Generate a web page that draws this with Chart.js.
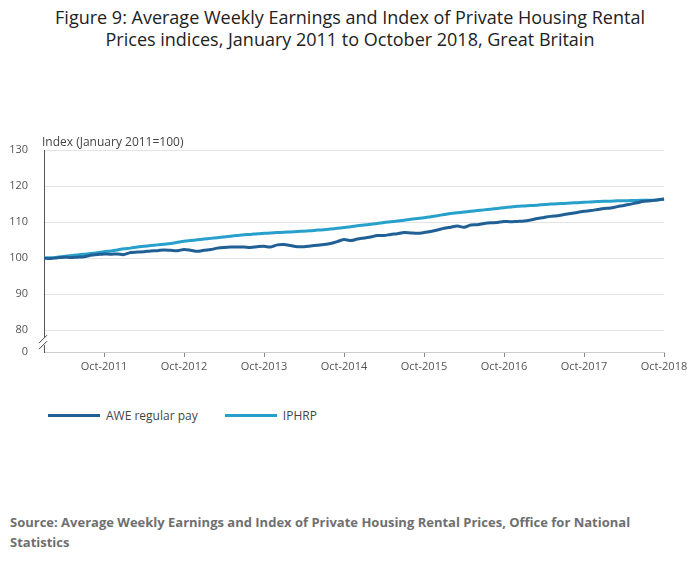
<!DOCTYPE html>
<html>
<head>
<meta charset="utf-8">
<script src="https://cdn.jsdelivr.net/npm/chart.js@4"></script>
<style>
  body { margin: 0; background: #fff; font-family: "Open Sans", sans-serif; }
  #wrap { position: relative; width: 700px; height: 574px; }
  #title { position: absolute; top: 6px; left: 0; width: 700px; text-align: center; font-size: 18px; line-height: 22px; color: #222; }
  #box { position: absolute; top: 0; left: 0; width: 700px; height: 380px; }
  #legend { position: absolute; top: 406px; left: 48px; font-size: 12px; color: #444; }
  #legend span { display: inline-block; vertical-align: middle; }
  .sw { width: 52px; height: 3px; margin-right: 6px; }
  #source { position: absolute; top: 512px; left: 10px; width: 680px; font-size: 13px; line-height: 20px; font-weight: bold; color: #6f6f6f; }
</style>
</head>
<body>
<div id="wrap">
  <div id="title">Figure 9: Average Weekly Earnings and Index of Private Housing Rental<br>Prices indices, January 2011 to October 2018, Great Britain</div>
  <div id="box"><canvas id="chart"></canvas></div>
  <div id="legend">
    <span class="sw" style="background:#206095"></span><span style="margin-right:24px">AWE regular pay</span>
    <span class="sw" style="background:#27a0cc"></span><span>IPHRP</span>
  </div>
  <div id="source">Source: Average Weekly Earnings and Index of Private Housing Rental Prices, Office for National Statistics</div>
</div>
<script>
const monthNames = ['Jan','Feb','Mar','Apr','May','Jun','Jul','Aug','Sep','Oct','Nov','Dec'];
const months = [];
for (let y = 2011; y <= 2018; y++) {
    monthNames.forEach((m, i) => { if (y < 2018 || i <= 9) months.push(m + '-' + y); });
}

const awe = [
    100.0, 99.9, 100.1, 100.3, 100.2, 100.3, 100.4, 100.8, 101.0, 101.2, 101.1, 101.2,
    101.0, 101.6, 101.7, 101.8, 102.0, 102.1, 102.3, 102.2, 102.1, 102.4, 102.2, 101.9,
    102.2, 102.4, 102.8, 103.0, 103.1, 103.1, 103.1, 103.0, 103.2, 103.3, 103.1, 103.7,
    103.8, 103.5, 103.2, 103.2, 103.4, 103.6, 103.8, 104.1, 104.6, 105.2, 104.9, 105.3,
    105.6, 105.9, 106.3, 106.3, 106.6, 106.8, 107.1, 107.0, 106.9, 107.1, 107.4, 107.8,
    108.3, 108.6, 108.9, 108.6, 109.2, 109.3, 109.6, 109.8, 109.9, 110.2, 110.1, 110.2,
    110.3, 110.6, 111.0, 111.3, 111.6, 111.8, 112.1, 112.4, 112.7, 113.0, 113.2, 113.5,
    113.8, 113.9, 114.3, 114.6, 115.0, 115.4, 115.8, 115.9, 116.1, 116.5
];
const iphrp = [
    100.0, 100.1, 100.3, 100.5, 100.7, 100.9, 101.1, 101.3, 101.5, 101.8, 102.0, 102.3,
    102.6, 102.8, 103.1, 103.3, 103.5, 103.7, 103.9, 104.1, 104.4, 104.7, 104.9, 105.1,
    105.3, 105.5, 105.7, 105.9, 106.1, 106.3, 106.5, 106.6, 106.8, 106.9, 107.0, 107.1,
    107.2, 107.3, 107.4, 107.5, 107.6, 107.8, 107.9, 108.1, 108.3, 108.5, 108.7, 109.0,
    109.2, 109.4, 109.6, 109.9, 110.1, 110.3, 110.5, 110.8, 111.0, 111.2, 111.5, 111.8,
    112.1, 112.4, 112.6, 112.8, 113.0, 113.2, 113.4, 113.6, 113.8, 114.0, 114.2, 114.4,
    114.5, 114.6, 114.7, 114.9, 115.0, 115.1, 115.2, 115.3, 115.4, 115.5, 115.6, 115.7,
    115.8, 115.8, 115.9, 115.9, 116.0, 116.0, 116.1, 116.1, 116.2, 116.3
];
// 74 on the scale stands for the broken-axis "0"
const yTicks = [74, 80, 90, 100, 110, 120, 130];

const extras = {
    id: 'extras',
    afterDraw(chart) {
        const { ctx, chartArea } = chart;
        ctx.save();
        ctx.font = '12px "Open Sans"';
        ctx.fillStyle = '#444';
        ctx.textBaseline = 'bottom';
        ctx.fillText('Index (January 2011=100)', chartArea.left - 2, chartArea.top - 1);
        // axis break
        const yb = chart.scales.y.getPixelForValue(77);
        const x = chartArea.left;
        ctx.fillStyle = '#fff';
        ctx.fillRect(x - 6, yb - 4, 12, 8);
        ctx.strokeStyle = '#444';
        ctx.lineWidth = 1;
        ctx.beginPath();
        ctx.moveTo(x - 5, yb + 2); ctx.lineTo(x + 3, yb - 6);
        ctx.moveTo(x - 5, yb + 8); ctx.lineTo(x + 3, yb);
        ctx.stroke();
        ctx.restore();
    }
};

new Chart(document.getElementById('chart'), {
    type: 'line',
    data: {
        labels: months,
        datasets: [
            { label: 'AWE regular pay', data: awe, borderColor: '#206095', borderWidth: 3, pointRadius: 0, tension: 0.3 },
            { label: 'IPHRP', data: iphrp, borderColor: '#27a0cc', borderWidth: 3, pointRadius: 0, tension: 0.3 }
        ]
    },
    options: {
        responsive: true,
        maintainAspectRatio: false,
        animation: false,
        layout: { padding: { left: 0, right: 36, top: 150, bottom: 0 } },
        plugins: { legend: { display: false }, tooltip: { enabled: false } },
        scales: {
            x: {
                offset: false,
                afterFit: s => { s.height = 28; },
                grid: {
                    drawOnChartArea: false,
                    tickLength: 5,
                    color: c => (c.tick && months[c.tick.value] && months[c.tick.value].startsWith('Oct')) ? '#888' : 'transparent'
                },
                border: { color: '#ccc' },
                ticks: {
                    autoSkip: false,
                    maxRotation: 0,
                    color: '#555',
                    font: { family: 'Open Sans', size: 11 },
                    callback: function(v) { const m = months[v]; return m.startsWith('Oct') ? m : ''; }
                }
            },
            y: {
                min: 74,
                max: 130,
                afterFit: s => { s.width = 44; },
                afterBuildTicks: s => { s.ticks = yTicks.map(v => ({ value: v })); },
                grid: { color: '#e3e3e3', drawTicks: false },
                border: { display: true, color: '#555' },
                ticks: {
                    padding: 16,
                    color: '#555',
                    font: { family: 'Open Sans', size: 11 },
                    callback: v => v === 74 ? '0' : v
                }
            }
        }
    },
    plugins: [extras]
});
</script>
</body>
</html>
